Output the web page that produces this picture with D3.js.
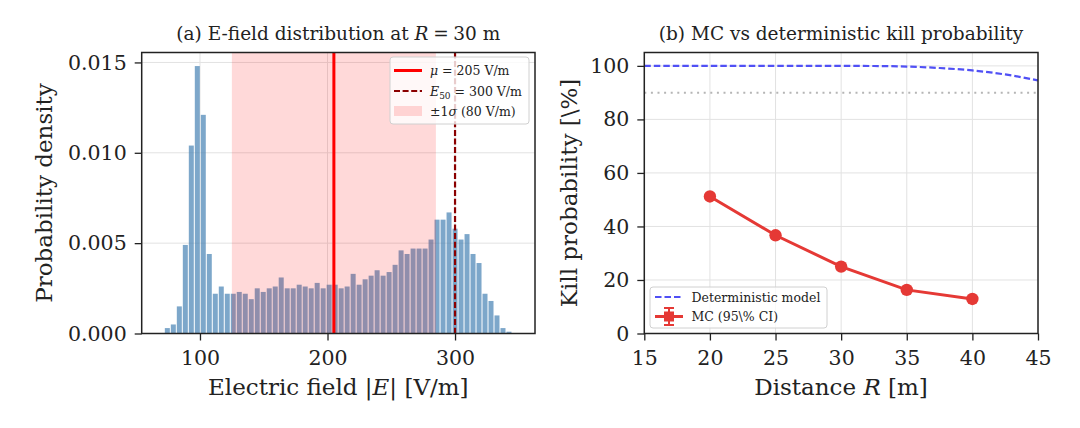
<!DOCTYPE html>
<html>
<head>
<meta charset="utf-8">
<script src="https://cdn.jsdelivr.net/npm/d3@7/dist/d3.min.js"></script>
<style>
  body { margin: 0; background: #fff; }
  svg text { font-family: "DejaVu Serif", serif; fill: #222; }
</style>
</head>
<body>
<div id="chart"></div>
<script>
// (a) histogram of |E| at R = 30 m
const binRange = [72.05, 344.65]
const density = [0.0003, 0.0005, 0.0015, 0.0049, 0.0104, 0.0148, 0.0121, 0.0044, 0.0022, 0.0026,
    0.0022, 0.0022, 0.0023, 0.0022, 0.0019, 0.0025, 0.0023, 0.0025, 0.0026, 0.0031,
    0.0025, 0.0025, 0.0027, 0.0026, 0.0025, 0.0028, 0.0025, 0.0027, 0.0027, 0.0025,
    0.0026, 0.0033, 0.0027, 0.0030, 0.0032, 0.0035, 0.0032, 0.0034, 0.0038, 0.0046,
    0.0044, 0.0047, 0.0047, 0.0047, 0.0052, 0.0063, 0.0063, 0.0067, 0.0058, 0.0052,
    0.0055, 0.0044, 0.0039, 0.0022, 0.0018, 0.0010, 0.0003, 0.0001]
const muE = 205
const sigmaE = 80
const e50 = 300
const histXTicks = [100, 200, 300]
const histYTicks = [0, 0.005, 0.010, 0.015]

// (b) kill probability vs distance
const detR = [15, 20, 25, 30, 32.5, 35, 37.5, 40, 42.5, 45]
const detP = [100, 100, 100, 100, 99.95, 99.75, 99.2, 98.3, 96.8, 94.6]
const mcR = [20, 25, 30, 35, 40]
const mcP = [51.2, 36.7, 25.0, 16.3, 12.9]
const mcCI = [1.0, 1.0, 0.9, 0.8, 0.7]
const thresholdP = 90
const killXTicks = [15, 20, 25, 30, 35, 40, 45]
const killYTicks = [0, 20, 40, 60, 80, 100]

const W = 1080, H = 428
const svg = d3.select('#chart').append('svg')
    .attr('width', W)
    .attr('height', H)
svg.append('rect').attr('width', W).attr('height', H).attr('fill', '#fff')

const plotTop = 52.5, plotBottom = 333.5
const tickFont = '20.5px', labelFont = '23px', titleFont = '18.5px', legendFont = '12.5px'

function styleAxis(g) {
    g.select('.domain').remove()
    g.selectAll('.tick line').attr('stroke', '#222').attr('stroke-width', 1.3)
    g.selectAll('.tick text').style('font-size', tickFont).style('font-family', '"DejaVu Serif", serif').attr('fill', '#222')
}

function drawGrid(g, x, y, xt, yt) {
    g.selectAll('.gx').data(xt).enter().append('line')
        .attr('x1', d => x(d)).attr('x2', d => x(d))
        .attr('y1', plotTop).attr('y2', plotBottom)
        .attr('stroke', '#e2e2e2').attr('stroke-width', 1)
    g.selectAll('.gy').data(yt).enter().append('line')
        .attr('x1', x.range()[0]).attr('x2', x.range()[1])
        .attr('y1', d => y(d)).attr('y2', d => y(d))
        .attr('stroke', '#e2e2e2').attr('stroke-width', 1)
}

// ---------------- panel (a) ----------------
const xL = d3.scaleLinear().domain([54.3, 362.7]).range([141.7, 535])
const yL = d3.scaleLinear().domain([0, 0.01555]).range([plotBottom, plotTop])
const gA = svg.append('g')

drawGrid(gA, xL, yL, histXTicks, histYTicks)

var binW = (binRange[1] - binRange[0]) / density.length
var bins = density.map((d, i) => ({ x0: binRange[0] + i * binW, x1: binRange[0] + (i + 1) * binW, v: d }))

gA.selectAll('.bar').data(bins).enter().append('rect')
    .attr('x', d => xL(d.x0) + 0.5)
    .attr('width', d => xL(d.x1) - xL(d.x0) - 1)
    .attr('y', d => yL(d.v))
    .attr('height', d => yL(0) - yL(d.v))
    .attr('fill', 'steelblue')
    .attr('fill-opacity', 0.7)

// +-1 sigma band, drawn over the bars like axvspan
gA.append('rect')
    .attr('x', xL(muE - sigmaE))
    .attr('width', xL(muE + sigmaE) - xL(muE - sigmaE))
    .attr('y', plotTop).attr('height', plotBottom - plotTop)
    .attr('fill', 'red').attr('fill-opacity', 0.15)

gA.append('line')
    .attr('x1', xL(muE)).attr('x2', xL(muE))
    .attr('y1', plotTop).attr('y2', plotBottom)
    .attr('stroke', '#ff0000').attr('stroke-width', 3)

gA.append('line')
    .attr('x1', xL(e50)).attr('x2', xL(e50))
    .attr('y1', plotTop).attr('y2', plotBottom)
    .attr('stroke', '#8b0000').attr('stroke-width', 2.2)
    .attr('stroke-dasharray', '6,2.6')

gA.append('g').attr('transform', `translate(0,${plotBottom})`)
    .call(d3.axisBottom(xL).tickValues(histXTicks).tickSize(7).tickPadding(10).tickFormat(d3.format('d')))
    .call(styleAxis)
gA.append('g').attr('transform', `translate(${xL.range()[0]},0)`)
    .call(d3.axisLeft(yL).tickValues(histYTicks).tickSize(7).tickPadding(8).tickFormat(d3.format('.3f')))
    .call(styleAxis)

gA.append('rect')
    .attr('x', 141.7).attr('y', plotTop).attr('width', 535 - 141.7).attr('height', plotBottom - plotTop)
    .attr('fill', 'none').attr('stroke', '#222').attr('stroke-width', 1.5)

// legend (a)
var legA = gA.append('g')
legA.append('rect').attr('x', 390).attr('y', 57).attr('width', 139).attr('height', 67).attr('rx', 3)
    .attr('fill', '#fff').attr('fill-opacity', 0.8).attr('stroke', '#d0d0d0')
legA.append('line').attr('x1', 394).attr('x2', 422).attr('y1', 70.5).attr('y2', 70.5)
    .attr('stroke', '#ff0000').attr('stroke-width', 3)
legA.append('line').attr('x1', 394).attr('x2', 422).attr('y1', 91).attr('y2', 91)
    .attr('stroke', '#8b0000').attr('stroke-width', 2.2).attr('stroke-dasharray', '6,2.6')
legA.append('rect').attr('x', 394).attr('y', 106).attr('width', 28).attr('height', 10)
    .attr('fill', 'red').attr('fill-opacity', 0.15)

var t1 = legA.append('text').attr('x', 430).attr('y', 75).style('font-size', legendFont)
t1.append('tspan').style('font-style', 'italic').text('μ')
t1.append('tspan').text(' = 205 V/m')
var t2 = legA.append('text').attr('x', 430).attr('y', 95.5).style('font-size', legendFont)
t2.append('tspan').style('font-style', 'italic').text('E')
t2.append('tspan').style('font-size', '9px').attr('dy', 3).text('50')
t2.append('tspan').attr('dy', -3).text(' = 300 V/m')
var t3 = legA.append('text').attr('x', 430).attr('y', 116).style('font-size', legendFont)
t3.append('tspan').text('±1')
t3.append('tspan').style('font-style', 'italic').text('σ')
t3.append('tspan').text(' (80 V/m)')

// titles and labels (a)
var ta = gA.append('text').attr('x', 338.3).attr('y', 40).attr('text-anchor', 'middle').style('font-size', titleFont)
ta.append('tspan').text('(a) E-field distribution at ')
ta.append('tspan').style('font-style', 'italic').text('R')
ta.append('tspan').text('\u2005=\u200530 m')

var xa = gA.append('text').attr('x', 338.3).attr('y', 395).attr('text-anchor', 'middle').style('font-size', labelFont)
xa.append('tspan').text('Electric field |')
xa.append('tspan').style('font-style', 'italic').text('E')
xa.append('tspan').text('| [V/m]')

gA.append('text').attr('transform', 'translate(52,193) rotate(-90)')
    .attr('text-anchor', 'middle').style('font-size', labelFont)
    .text('Probability density')

// ---------------- panel (b) ----------------
const xR = d3.scaleLinear().domain([15, 45]).range([644.3, 1038])
const yR = d3.scaleLinear().domain([0, 105]).range([plotBottom, plotTop])
const gB = svg.append('g')

drawGrid(gB, xR, yR, killXTicks, killYTicks)

var clip = svg.append('clipPath').attr('id', 'clipB')
clip.append('rect').attr('x', 644.3).attr('y', plotTop).attr('width', 1038 - 644.3).attr('height', plotBottom - plotTop)

gB.append('line')
    .attr('x1', xR(15)).attr('x2', xR(45))
    .attr('y1', yR(thresholdP)).attr('y2', yR(thresholdP))
    .attr('stroke', '#b5b5b5').attr('stroke-width', 2)
    .attr('stroke-dasharray', '2,4.6')

gB.append('path')
    .datum(detR.map((r, i) => [r, detP[i]]))
    .attr('clip-path', 'url(#clipB)')
    .attr('fill', 'none')
    .attr('stroke', '#5050f5').attr('stroke-width', 2.2)
    .attr('stroke-dasharray', '6.5,3')
    .attr('d', d3.line().x(d => xR(d[0])).y(d => yR(d[1])).curve(d3.curveMonotoneX))

var mcColor = '#e53935'
gB.append('path')
    .datum(mcR.map((r, i) => [r, mcP[i]]))
    .attr('fill', 'none')
    .attr('stroke', mcColor).attr('stroke-width', 3)
    .attr('d', d3.line().x(d => xR(d[0])).y(d => yR(d[1])))

var errs = gB.selectAll('.err').data(mcR.map((r, i) => ({ r: r, p: mcP[i], ci: mcCI[i] }))).enter().append('g')
errs.append('line')
    .attr('x1', d => xR(d.r)).attr('x2', d => xR(d.r))
    .attr('y1', d => yR(d.p - d.ci)).attr('y2', d => yR(d.p + d.ci))
    .attr('stroke', mcColor).attr('stroke-width', 2)
errs.append('circle')
    .attr('cx', d => xR(d.r)).attr('cy', d => yR(d.p)).attr('r', 6.2)
    .attr('fill', mcColor)

gB.append('g').attr('transform', `translate(0,${plotBottom})`)
    .call(d3.axisBottom(xR).tickValues(killXTicks).tickSize(7).tickPadding(10).tickFormat(d3.format('d')))
    .call(styleAxis)
gB.append('g').attr('transform', `translate(${xR.range()[0]},0)`)
    .call(d3.axisLeft(yR).tickValues(killYTicks).tickSize(7).tickPadding(8).tickFormat(d3.format('d')))
    .call(styleAxis)

gB.append('rect')
    .attr('x', 644.3).attr('y', plotTop).attr('width', 1038 - 644.3).attr('height', plotBottom - plotTop)
    .attr('fill', 'none').attr('stroke', '#222').attr('stroke-width', 1.5)

// legend (b)
var legB = gB.append('g')
legB.append('rect').attr('x', 650).attr('y', 287).attr('width', 177).attr('height', 41).attr('rx', 3)
    .attr('fill', '#fff').attr('fill-opacity', 0.8).attr('stroke', '#d0d0d0')
legB.append('line').attr('x1', 655).attr('x2', 683).attr('y1', 297).attr('y2', 297)
    .attr('stroke', '#5050f5').attr('stroke-width', 2.2).attr('stroke-dasharray', '6.5,3')
legB.append('line').attr('x1', 655).attr('x2', 683).attr('y1', 316.5).attr('y2', 316.5)
    .attr('stroke', mcColor).attr('stroke-width', 3)
legB.append('line').attr('x1', 669).attr('x2', 669).attr('y1', 308).attr('y2', 325)
    .attr('stroke', mcColor).attr('stroke-width', 2)
legB.append('line').attr('x1', 664).attr('x2', 674).attr('y1', 308).attr('y2', 308)
    .attr('stroke', mcColor).attr('stroke-width', 2)
legB.append('line').attr('x1', 664).attr('x2', 674).attr('y1', 325).attr('y2', 325)
    .attr('stroke', mcColor).attr('stroke-width', 2)
legB.append('rect').attr('x', 664).attr('y', 311.5).attr('width', 10).attr('height', 10).attr('fill', mcColor)
legB.append('text').attr('x', 691.5).attr('y', 301.5).style('font-size', legendFont).text('Deterministic model')
legB.append('text').attr('x', 691.5).attr('y', 321).style('font-size', legendFont).text('MC (95\\% CI)')

var tb = gB.append('text').attr('x', 841).attr('y', 40).attr('text-anchor', 'middle').style('font-size', titleFont)
    .text('(b) MC vs deterministic kill probability')

var xb = gB.append('text').attr('x', 841).attr('y', 395).attr('text-anchor', 'middle').style('font-size', labelFont)
xb.append('tspan').text('Distance ')
xb.append('tspan').style('font-style', 'italic').text('R')
xb.append('tspan').text(' [m]')

gB.append('text').attr('transform', 'translate(577,193) rotate(-90)')
    .attr('text-anchor', 'middle').style('font-size', labelFont)
    .text('Kill probability [\\%]')
</script>
</body>
</html>
